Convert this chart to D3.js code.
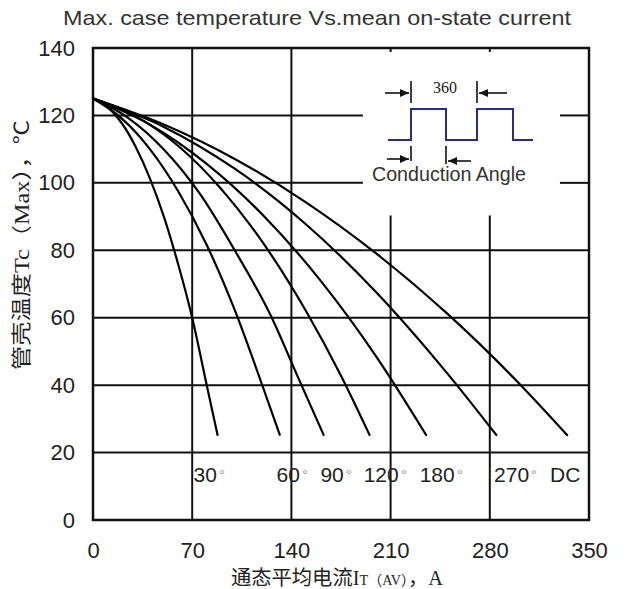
<!DOCTYPE html>
<html><head><meta charset="utf-8">
<script src="https://cdn.jsdelivr.net/npm/d3@7"></script>
<style>body{margin:0;background:#fff}</style>
</head><body><svg id="c" width="627" height="589"></svg>
<script>
// ---- data ----
const xTicks = [0, 70, 140, 210, 280, 350];
const yTicks = [0, 20, 40, 60, 80, 100, 120, 140];
const angleLabels = ["30", "60", "90", "120", "180", "270", "DC"];
const angleLabelX = [71, 129.5, 160.5, 191, 230.5, 283, 322.5];
const I30 = [0, 10, 20, 30, 40, 50, 60, 70, 80, 88];
const T30 = [125, 122.6, 117.9, 110.8, 101.5, 90, 76, 60, 40.5, 25];
const I60 = [0, 20, 40, 60, 80, 100, 120, 132];
const T60 = [125, 119.2, 110.1, 97.6, 81.8, 62.3, 39.3, 25];
const I90 = [0, 25, 50, 75, 100, 125, 145, 163];
const T90 = [125, 119.2, 109.9, 97, 80, 61, 42, 25];
const I120 = [0, 30, 60, 90, 120, 150, 175, 195.4];
const T120 = [125, 119.8, 111, 98.4, 82.2, 62.2, 42.8, 25];
const I180 = [0, 40, 80, 120, 160, 200, 235.4];
const T180 = [125, 117.3, 105.7, 90.4, 71.3, 48.4, 25];
const I270 = [0, 50, 100, 150, 200, 250, 285];
const T270 = [125, 116.6, 104.2, 87.8, 67.5, 43.5, 25];
const IDC = [0, 50, 100, 150, 200, 250, 300, 335];
const TDC = [125, 117.3, 107.1, 94.3, 79, 61.2, 40.8, 25];
const curves = [[I30, T30], [I60, T60], [I90, T90], [I120, T120], [I180, T180], [I270, T270], [IDC, TDC]];
// inset gap (data units) where grid is blanked
const gapX = [190.5, 329.5];
const gapTop = 90.3;

const svg = d3.select("#c");
const x = d3.scaleLinear([0, 350], [93, 589]);
const y = d3.scaleLinear([0, 140], [520, 48]);
const g = svg.append("g");
const ink = "#111";

// title
svg.append("text").attr("x", 317).attr("y", 25).attr("text-anchor", "middle")
  .attr("font-family", "Liberation Sans, Arial, sans-serif").attr("font-size", 21)
  .attr("fill", "#333").attr("textLength", 508).attr("lengthAdjust", "spacingAndGlyphs")
  .text("Max. case temperature Vs.mean on-state current");

// grid: horizontal
yTicks.filter(v => v > 0 && v < 140).forEach(v => {
  const segs = (v >= 100) ? [[0, gapX[0]], [gapX[1], 350]] : [[0, 350]];
  segs.forEach(s => g.append("line").attr("x1", x(s[0])).attr("x2", x(s[1]))
    .attr("y1", y(v)).attr("y2", y(v)).attr("stroke", ink).attr("stroke-width", 2));
});
// grid: vertical
xTicks.filter(v => v > 0 && v < 350).forEach(v => {
  const inGap = v > gapX[0] && v < gapX[1];
  g.append("line").attr("x1", x(v)).attr("x2", x(v))
    .attr("y1", y(0)).attr("y2", inGap ? y(gapTop) : y(140))
    .attr("stroke", ink).attr("stroke-width", 2);
  if (inGap) g.append("line").attr("x1", x(v)).attr("x2", x(v))
    .attr("y1", y(140)).attr("y2", y(140) + 4).attr("stroke", ink).attr("stroke-width", 2);
});
// frame
g.append("rect").attr("x", x(0)).attr("y", y(140)).attr("width", x(350) - x(0))
  .attr("height", y(0) - y(140)).attr("fill", "none").attr("stroke", ink).attr("stroke-width", 2.5);

// axes labels
const yAx = svg.append("g").attr("transform", `translate(${x(0)},0)`)
  .call(d3.axisLeft(y).tickValues(yTicks).tickSize(0).tickPadding(18));
const xAx = svg.append("g").attr("transform", `translate(0,${y(0)})`)
  .call(d3.axisBottom(x).tickValues(xTicks).tickSize(0).tickPadding(22));
[yAx, xAx].forEach(a => {
  a.select(".domain").remove();
  a.selectAll("text").attr("font-family", "Liberation Sans, Arial, sans-serif")
    .attr("font-size", 22).attr("fill", "#222");
});

// curves
const line = d3.line().x(d => x(d[0])).y(d => y(d[1])).curve(d3.curveMonotoneX);
curves.forEach(([I, T]) => {
  g.append("path").attr("d", line(I.map((v, i) => [v, T[i]])))
    .attr("fill", "none").attr("stroke", "#000").attr("stroke-width", 2.2);
});

// angle labels
angleLabels.forEach((t, i) => {
  const tx = svg.append("text").attr("x", x(angleLabelX[i])).attr("y", y(11.3))
    .attr("font-family", "Liberation Sans, Arial, sans-serif").attr("font-size", 21).attr("fill", "#222");
  tx.append("tspan").text(t);
  if (t !== "DC") tx.append("tspan").attr("font-size", 15).attr("fill", "#999").attr("dx", 2).attr("dy", -2).text("°");
});

// inset
const ins = svg.append("g");
const navy = "#2a2a8a";
const wave = [[388,140],[411,140],[411,109],[446,109],[446,140],[477,140],[477,109],[513,109],[513,140],[533,140]];
ins.append("path").attr("d", d3.line()(wave)).attr("fill", "none").attr("stroke", navy).attr("stroke-width", 2);
function bar(xx, y1, y2) { ins.append("line").attr("x1", xx).attr("x2", xx).attr("y1", y1).attr("y2", y2).attr("stroke", "#111").attr("stroke-width", 1.6); }
function arrow(x1, x2, yy) {
  ins.append("line").attr("x1", x1).attr("x2", x2).attr("y1", yy).attr("y2", yy).attr("stroke", "#111").attr("stroke-width", 1.6);
  const d = x2 > x1 ? 1 : -1;
  ins.append("path").attr("d", `M${x2},${yy} L${x2 - d * 9},${yy - 4} L${x2 - d * 9},${yy + 4} Z`).attr("fill", "#111");
}
bar(411, 81, 103); bar(477, 81, 103);
arrow(385, 409, 93); arrow(507, 479, 93);
bar(411, 146, 161); bar(446, 146, 164);
arrow(387, 409, 159); arrow(471, 448, 161);
ins.append("text").attr("x", 445).attr("y", 93).attr("text-anchor", "middle")
  .attr("font-family", "Liberation Serif, serif").attr("font-size", 16).attr("fill", "#222").text("360");
ins.append("text").attr("x", 372).attr("y", 181)
  .attr("font-family", "Liberation Sans, Arial, sans-serif").attr("font-size", 19.5).attr("fill", "#333")
  .attr("textLength", 154).attr("lengthAdjust", "spacingAndGlyphs").text("Conduction Angle");

// axis titles
const cjk = "Liberation Serif, Noto Sans CJK SC, serif";
svg.append("text").attr("transform", "translate(29,245) rotate(-90)").attr("text-anchor", "middle")
  .attr("font-family", cjk).attr("font-size", 20).attr("fill", "#222")
  .attr("textLength", 250).attr("lengthAdjust", "spacingAndGlyphs")
  .text("管壳温度Tc（Max），℃");
const xt = svg.append("text").attr("x", 231).attr("y", 585)
  .attr("font-family", cjk).attr("font-size", 20).attr("fill", "#222")
  .attr("textLength", 212).attr("lengthAdjust", "spacingAndGlyphs");
xt.append("tspan").text("通态平均电流I");
xt.append("tspan").attr("font-size", 14).text("T（AV）");
xt.append("tspan").text("，A");
</script></body></html>
